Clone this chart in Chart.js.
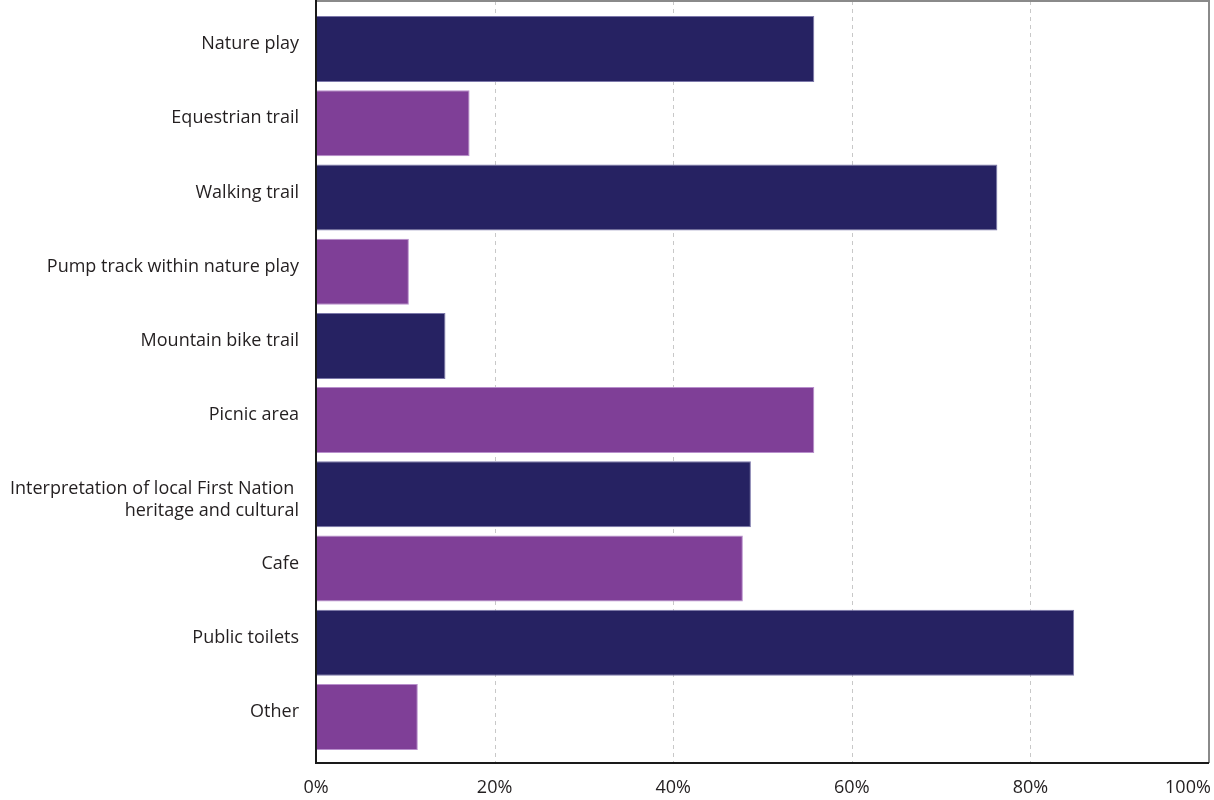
<!DOCTYPE html>
<html>
<head>
<meta charset="utf-8">
<script src="https://cdn.jsdelivr.net/npm/chart.js@4"></script>
<style>
  html, body { margin: 0; padding: 0; background: #fff; }
  canvas { display: block; }
</style>
</head>
<body>
<canvas id="chart" width="1214" height="800"></canvas>
<script>
// facilities wanted (% of respondents)
const categories = [
    'Nature play',
    'Equestrian trail',
    'Walking trail',
    'Pump track within nature play',
    'Mountain bike trail',
    'Picnic area',
    // empty first line pushes the two-line label down a little, as in the original
    ['', 'Interpretation of local First Nation ', 'heritage and cultural'],
    'Cafe',
    'Public toilets',
    'Other'
];
const percentages = [55.8, 17.2, 76.3, 10.4, 14.5, 55.8, 48.7, 47.8, 84.9, 11.4];
const xTicks = [0, 20, 40, 60, 80, 100];

const NAVY = '#262262';
const PURPLE = '#7f3f97';

// dashed grid + frame drawn a bit past the category band, like the original
const framePlugin = {
    id: 'frame',
    beforeDatasetsDraw(chart) {
        const { ctx, chartArea: a, scales: { x } } = chart;
        const top = a.top - 11, bottom = a.bottom + 9;
        ctx.save();
        ctx.strokeStyle = '#c8c8c8';
        ctx.lineWidth = 1;
        ctx.setLineDash([4, 4]);
        xTicks.slice(1, -1).forEach(v => {
            const px = Math.round(x.getPixelForValue(v)) + 0.5;
            ctx.beginPath();
            ctx.moveTo(px, top);
            ctx.lineTo(px, bottom);
            ctx.stroke();
        });
        ctx.restore();
    },
    afterDatasetsDraw(chart) {
        const { ctx, chartArea: a } = chart;
        const top = a.top - 11, bottom = a.bottom + 9;
        ctx.save();
        ctx.lineWidth = 2;
        ctx.strokeStyle = '#8a8a8a';
        ctx.beginPath();
        ctx.moveTo(a.left, top);
        ctx.lineTo(a.right, top);
        ctx.lineTo(a.right, bottom);
        ctx.stroke();
        ctx.strokeStyle = '#1a1a1a';
        ctx.beginPath();
        ctx.moveTo(a.left, 0);
        ctx.lineTo(a.left, bottom);
        ctx.lineTo(a.right, bottom);
        ctx.stroke();
        ctx.restore();
    }
};

new Chart(document.getElementById('chart'), {
    type: 'bar',
    data: {
        labels: categories,
        datasets: [{
            data: percentages,
            backgroundColor: c => (c.dataIndex % 2 ? PURPLE : NAVY),
            borderColor: c => (c.dataIndex % 2 ? '#b88fcc' : '#7c78aa'),
            borderWidth: 1,
            barPercentage: 0.89,
            categoryPercentage: 1
        }]
    },
    options: {
        indexAxis: 'y',
        responsive: false,
        animation: false,
        devicePixelRatio: 1,
        layout: { padding: { top: 12, right: 5, left: 0, bottom: 0 } },
        plugins: { legend: { display: false }, tooltip: { enabled: false } },
        scales: {
            x: {
                min: 0,
                max: 100,
                grid: { display: false, drawTicks: false },
                border: { display: false },
                ticks: {
                    stepSize: 20,
                    padding: 23,
                    color: '#231f20',
                    font: { family: 'Open Sans', size: 18 },
                    // last label sits inside the right edge in the original
                    callback: v => (v === 100 ? '100%' + '\u00a0'.repeat(9) : v + '%')
                },
                afterFit: s => { s.height = 46; s.paddingLeft = 0; s.paddingRight = 0; }
            },
            y: {
                grid: { display: false, drawTicks: false },
                border: { display: false },
                ticks: {
                    padding: 17,
                    labelOffset: -5,
                    color: '#231f20',
                    font: { family: 'Open Sans', size: 18, lineHeight: 1.22 }
                },
                afterFit: s => { s.width = 316; s.paddingTop = 0; s.paddingBottom = 0; }
            }
        }
    },
    plugins: [framePlugin]
});
</script>
</body>
</html>
